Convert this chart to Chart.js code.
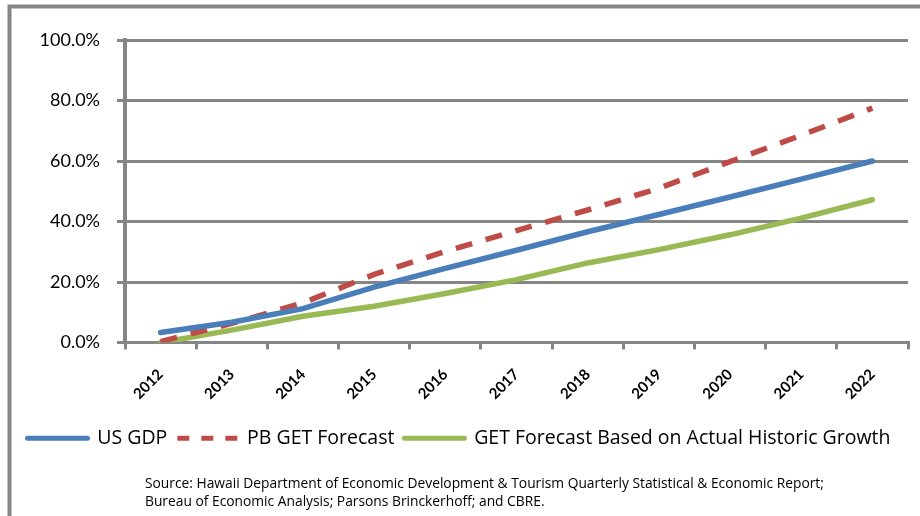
<!DOCTYPE html>
<html>
<head>
<meta charset="utf-8">
<script src="https://cdn.jsdelivr.net/npm/chart.js@4/dist/chart.umd.min.js"></script>
<style>
  html, body { margin: 0; padding: 0; background: #ffffff; }
  #wrap { width: 920px; height: 516px; position: relative; }
</style>
</head>
<body>
<div id="wrap"><canvas id="c" width="920" height="516"></canvas></div>
<script>
const years = ['2012','2013','2014','2015','2016','2017','2018','2019','2020','2021','2022'];
const usGdp = [3.3, 6.7, 11.2, 18.3, 24.5, 30.5, 36.6, 42.3, 48.1, 54.0, 60.0];
const pbGetForecast = [0.3, 6.3, 13.1, 22.5, 30.1, 37.0, 43.8, 51.0, 59.8, 68.5, 77.5];
const getHistoric = [0.0, 4.1, 8.7, 12.0, 16.2, 20.8, 26.3, 30.7, 35.6, 41.1, 47.2];
const seriesNames = ['US GDP', 'PB GET Forecast', 'GET Forecast Based on Actual Historic Growth'];
const yTicks = [0, 20, 40, 60, 80, 100];
const sourceLines = [
  'Source: Hawaii Department of Economic Development & Tourism Quarterly Statistical & Economic Report;',
  'Bureau of Economic Analysis; Parsons Brinckerhoff; and CBRE.'
];

const GRID = '#868686';
const FONT = 'Lato, "Liberation Sans", sans-serif';
const WIDE = '"Open Sans", "DejaVu Sans", sans-serif';

const framePlugin = {
  id: 'frame',
  afterDraw(chart) {
    const ctx = chart.ctx;
    ctx.save();
    ctx.strokeStyle = GRID;
    ctx.lineWidth = 4;
    ctx.beginPath();
    ctx.moveTo(9.5, 4.5); ctx.lineTo(9.5, 516);
    ctx.moveTo(7.5, 6.5); ctx.lineTo(920, 6.5);
    ctx.stroke();
    ctx.fillStyle = '#000';
    ctx.font = '13.8px ' + WIDE;
    ctx.textBaseline = 'middle';
    ctx.textAlign = 'left';
    ctx.fillText(sourceLines[0], 145, 484);
    ctx.fillText(sourceLines[1], 145, 502);
    ctx.restore();
  }
};

new Chart(document.getElementById('c'), {
  type: 'line',
  data: {
    labels: years,
    datasets: [
      { label: seriesNames[0], data: usGdp, borderColor: '#4A7EBB', backgroundColor: '#4A7EBB',
        borderWidth: 5.5, pointRadius: 0, tension: 0, borderCapStyle: 'round' },
      { label: seriesNames[1], data: pbGetForecast, borderColor: '#BE4B48', backgroundColor: '#BE4B48',
        borderWidth: 5.5, pointRadius: 0, tension: 0, borderDash: [17, 14], borderCapStyle: 'butt' },
      { label: seriesNames[2], data: getHistoric, borderColor: '#98B954', backgroundColor: '#98B954',
        borderWidth: 5.5, pointRadius: 0, tension: 0, borderCapStyle: 'round' }
    ]
  },
  options: {
    responsive: false,
    animation: false,
    devicePixelRatio: 1,
    layout: { padding: { left: 10, right: 12, top: 40, bottom: 58 } },
    plugins: {
      legend: {
        position: 'bottom',
        labels: {
          usePointStyle: true,
          pointStyleWidth: 60,
          boxHeight: 17,
          padding: 10,
          color: '#000',
          font: { family: WIDE, size: 19.5 },
          generateLabels(chart) {
            return chart.data.datasets.map((ds, i) => ({
              text: ds.label,
              pointStyle: 'line',
              strokeStyle: ds.borderColor,
              fillStyle: ds.borderColor,
              lineWidth: 5,
              lineDash: i === 1 ? [12, 12] : [],
              lineCap: i === 1 ? 'butt' : 'round',
              fontColor: '#000',
              datasetIndex: i,
              hidden: false
            }));
          }
        }
      },
      tooltip: { enabled: false }
    },
    scales: {
      x: {
        offset: true,
        afterFit(scale) { scale.height = 76; },
        grid: { offset: true, drawOnChartArea: false, drawTicks: true, tickLength: 7, color: GRID, lineWidth: 3 },
        border: { display: true, color: GRID, width: 3 },
        ticks: { color: '#000', font: { family: FONT, size: 15, weight: 'bold' }, minRotation: 45, maxRotation: 45, padding: 16, autoSkip: false }
      },
      y: {
        min: 0, max: 100,
        afterFit(scale) { scale.width = 115; },
        afterBuildTicks(scale) { scale.ticks = yTicks.map(v => ({ value: v })); },
        grid: { color: GRID, lineWidth: 3, drawTicks: true, tickLength: 8 },
        border: { display: true, color: GRID, width: 4 },
        ticks: { color: '#000', font: { family: FONT, size: 18 }, padding: 17,
                 callback: v => v.toFixed(1) + '%' }
      }
    }
  },
  plugins: [framePlugin]
});
</script>
</body>
</html>
